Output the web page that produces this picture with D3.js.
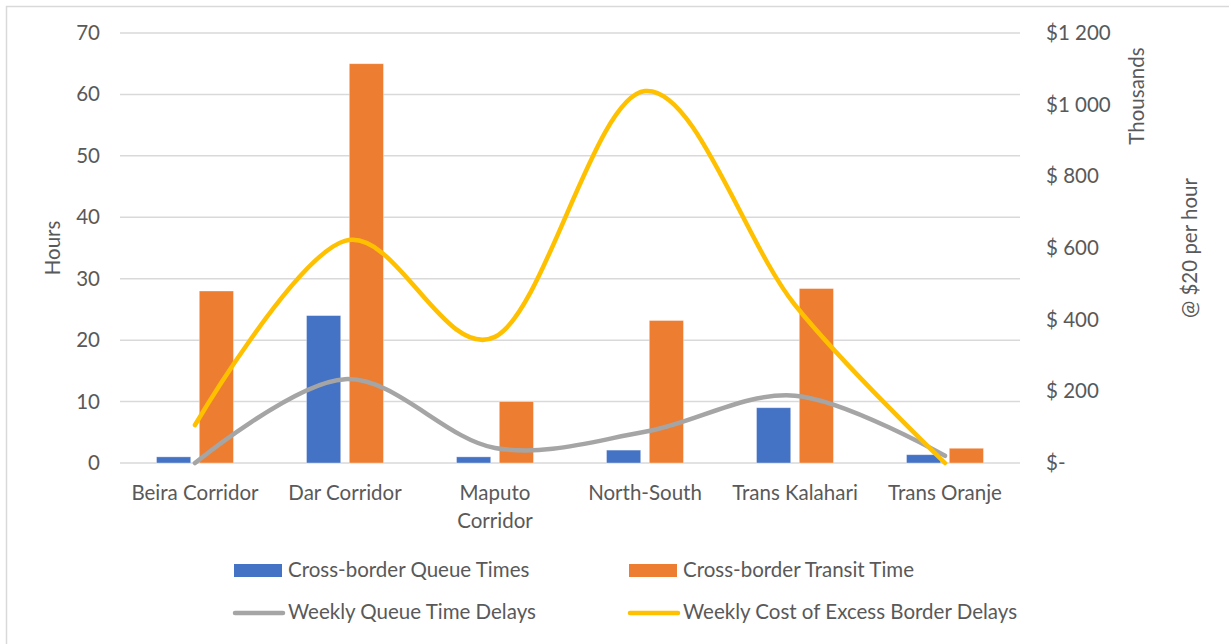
<!DOCTYPE html>
<html>
<head>
<meta charset="utf-8">
<script src="https://cdn.jsdelivr.net/npm/d3@7"></script>
<style>
  html, body { margin: 0; padding: 0; background: #fff; }
  svg { display: block; }
  text { font-family: Lato, "Open Sans", sans-serif; fill: #595959; }
</style>
</head>
<body>
<svg id="chart" width="1229" height="644"></svg>
<script>
// Corridors along the x axis (labels may wrap onto two lines)
const categories = ["Beira Corridor", "Dar Corridor", "Maputo Corridor", "North-South", "Trans Kalahari", "Trans Oranje"];
const categoryLines = [["Beira Corridor"], ["Dar Corridor"], ["Maputo", "Corridor"], ["North-South"], ["Trans Kalahari"], ["Trans Oranje"]];

// Bars, in hours (left axis)
const queueTimes = [1, 24, 1, 2.1, 9, 1.35];
const transitTimes = [28, 65, 10, 23.2, 28.4, 2.4];

// Lines, in $ thousands at $20 per hour (right axis)
const weeklyQueueDelays = [0, 234, 42, 87, 188, 20];
const weeklyCostDelays = [106, 620, 352, 1038, 441, 0];

// Axis ticks
const hourTicks = [0, 10, 20, 30, 40, 50, 60, 70];
const costTicks = [0, 200, 400, 600, 800, 1000, 1200];
const costTickLabels = ["$-", "$ 200", "$ 400", "$ 600", "$ 800", "$1 000", "$1 200"];

const barSeries = ["Cross-border Queue Times", "Cross-border Transit Time"];
const lineSeries = ["Weekly Queue Time Delays", "Weekly Cost of Excess Border Delays"];
const colors = {
  "Cross-border Queue Times": "#4472C4",
  "Cross-border Transit Time": "#ED7D31",
  "Weekly Queue Time Delays": "#A5A5A5",
  "Weekly Cost of Excess Border Delays": "#FFC000"
};

const svg = d3.select("#chart");
const plot = { left: 120, right: 1020, top: 33, bottom: 463 };
const fontSize = 20.5;

// Chart area frame
svg.append("rect")
  .attr("x", 6.5).attr("y", 6.5)
  .attr("width", 1300).attr("height", 700)
  .attr("fill", "#fff").attr("stroke", "#d9d9d9").attr("stroke-width", 1.5);

const x = d3.scaleBand().domain(categories).range([plot.left, plot.right]).padding(0);
const groupWidth = 77;
const x1 = d3.scaleBand().domain(barSeries).range([0, groupWidth]).paddingInner(0.2).paddingOuter(0);
const yLeft = d3.scaleLinear().domain([0, 70]).range([plot.bottom, plot.top]);
const yRight = d3.scaleLinear().domain([0, 1200]).range([plot.bottom, plot.top]);

// Horizontal gridlines
svg.append("g")
  .selectAll("line")
  .data(hourTicks)
  .join("line")
  .attr("x1", plot.left).attr("x2", plot.right)
  .attr("y1", d => yLeft(d)).attr("y2", d => yLeft(d))
  .attr("stroke", "#d9d9d9").attr("stroke-width", 1.5);

// Left axis (hours)
const leftAxis = d3.axisLeft(yLeft).tickValues(hourTicks).tickSize(0).tickPadding(0).tickFormat(d3.format("d"));
const gl = svg.append("g").attr("transform", `translate(${plot.left - 20},0)`).call(leftAxis);
gl.select(".domain").remove();
gl.selectAll("text").attr("font-size", fontSize).attr("fill", "#595959").attr("font-family", "Lato, sans-serif");

// Right axis ($ thousands)
const rightAxis = d3.axisRight(yRight).tickValues(costTicks).tickSize(0).tickPadding(0)
  .tickFormat((d, i) => costTickLabels[i]);
const gr = svg.append("g").attr("transform", `translate(${plot.right + 26},0)`).call(rightAxis);
gr.select(".domain").remove();
gr.selectAll("text").attr("font-size", fontSize).attr("fill", "#595959").attr("font-family", "Lato, sans-serif");

// Axis titles
svg.append("text")
  .attr("transform", `translate(60,248) rotate(-90)`)
  .attr("text-anchor", "middle").attr("font-size", fontSize)
  .text("Hours");
svg.append("text")
  .attr("transform", `translate(1144,96) rotate(-90)`)
  .attr("text-anchor", "middle").attr("font-size", fontSize)
  .text("Thousands");
svg.append("text")
  .attr("transform", `translate(1197,248) rotate(-90)`)
  .attr("text-anchor", "middle").attr("font-size", fontSize)
  .text("@ $20 per hour");

// Category labels
const catG = svg.append("g");
categories.forEach((c, i) => {
  const t = catG.append("text")
    .attr("x", x(c) + x.bandwidth() / 2)
    .attr("y", 500)
    .attr("text-anchor", "middle")
    .attr("font-size", fontSize);
  categoryLines[i].forEach((line, j) => {
    t.append("tspan").attr("x", x(c) + x.bandwidth() / 2).attr("dy", j === 0 ? 0 : 28).text(line);
  });
});

// Bars
const barData = [
  { name: barSeries[0], values: queueTimes },
  { name: barSeries[1], values: transitTimes }
];
const groups = svg.append("g")
  .selectAll("g")
  .data(categories)
  .join("g")
  .attr("transform", d => `translate(${x(d) + x.bandwidth() / 2 - groupWidth / 2},0)`);
groups.selectAll("rect")
  .data((d, i) => barData.map(s => ({ name: s.name, value: s.values[i] })))
  .join("rect")
  .attr("x", d => x1(d.name))
  .attr("width", x1.bandwidth())
  .attr("y", d => yLeft(d.value))
  .attr("height", d => yLeft(0) - yLeft(d.value))
  .attr("fill", d => colors[d.name])
  .attr("stroke", "#fff").attr("stroke-opacity", 0.45).attr("stroke-width", 0.8);

// Smoothed lines on the right axis
const line = d3.line()
  .x((d, i) => x(categories[i]) + x.bandwidth() / 2)
  .y(d => yRight(d))
  .curve(d3.curveCardinal.tension(0));
[
  { name: lineSeries[0], values: weeklyQueueDelays },
  { name: lineSeries[1], values: weeklyCostDelays }
].forEach(s => {
  svg.append("path")
    .datum(s.values)
    .attr("d", line)
    .attr("fill", "none")
    .attr("stroke", colors[s.name])
    .attr("stroke-width", 4.5)
    .attr("stroke-linecap", "round")
    .attr("stroke-linejoin", "round");
});

// Legend
const legendItems = [
  { name: barSeries[0], type: "bar", x: 234, y: 570 },
  { name: barSeries[1], type: "bar", x: 629, y: 570 },
  { name: lineSeries[0], type: "line", x: 234, y: 612 },
  { name: lineSeries[1], type: "line", x: 629, y: 612 }
];
const lg = svg.append("g");
legendItems.forEach(item => {
  if (item.type === "bar") {
    lg.append("rect")
      .attr("x", item.x).attr("y", item.y - 6)
      .attr("width", 48).attr("height", 13)
      .attr("fill", colors[item.name]);
  } else {
    lg.append("line")
      .attr("x1", item.x + 1).attr("x2", item.x + 49)
      .attr("y1", item.y + 1).attr("y2", item.y + 1)
      .attr("stroke", colors[item.name]).attr("stroke-width", 4.5)
      .attr("stroke-linecap", "round");
  }
  lg.append("text")
    .attr("x", item.x + 54).attr("y", item.y)
    .attr("dy", "0.35em")
    .attr("font-size", fontSize)
    .text(item.name);
});
</script>
</body>
</html>
